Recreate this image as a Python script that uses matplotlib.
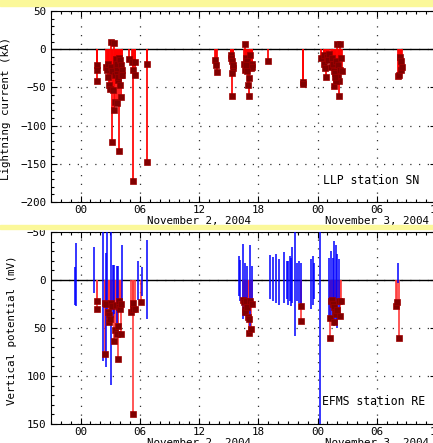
import matplotlib
matplotlib.use("Agg")
import matplotlib.pyplot as plt
from matplotlib.patches import Rectangle
from matplotlib.ticker import MultipleLocator

# hours relative to 2004-11-02 00:00 UT
llp_hours = [
    1.62, 1.62, 1.69,
    2.60, 2.67, 2.80, 2.80, 2.90, 2.97, 3.04, 3.10, 3.20, 3.20, 3.31, 3.37,
    3.37, 3.47, 3.47, 3.54, 3.61, 3.64, 3.71, 3.71, 3.71, 3.78, 3.81, 3.88,
    3.88, 3.95, 3.98, 4.05, 4.05, 4.11, 4.15, 4.18,
    4.89, 5.16, 5.33, 5.33, 5.50, 5.50, 6.68, 6.68,
    13.66, 13.76, 13.83,
    15.25, 15.28, 15.35, 15.41, 15.38, 15.35, 15.45,
    16.70, 16.53, 16.63, 16.80, 16.87, 16.93, 16.97, 17.04, 17.10, 17.14,
    17.20, 17.27, 17.34, 17.41, 16.87, 16.73,
    18.96, 22.50, 22.50,
    24.39, 24.63, 24.69, 24.80, 24.86, 24.96, 25.03, 25.13, 25.37, 25.47,
    25.57, 25.64, 25.71, 25.81, 25.91, 25.98, 26.04, 26.08, 26.14, 26.18,
    26.24, 26.31, 26.38, 26.48, 25.91, 25.78,
    32.15, 32.28, 32.38, 32.42, 32.48, 32.55,
]
llp_current = [
    -21, -27, -42,
    -23, -27, -19, -36, -47, -52, -23, 9, -121, -29, -53, 8,
    -80, -69, -34, -13, -21, -29, -25, -71, -19, -40, -36, -12,
    -133, -47, -14, -34, -62, -21, -27, -34,
    -13, -17, -27, -173, -17, -34, -20, -148,
    -14, -21, -30,
    -8, -12, -16, -25, -31, -61, -21,
    7, -19, -27, -12, -16, -23, -47, -61, -38, -8,
    -21, -25, -19, -23, -29, -21,
    -16, -43, -46,
    -12, -8, -19, -25, -37, -10, -14, -6, -23, -12,
    -19, -28, -48, -31, -16, 7, -21, -37, -42, -61,
    7, -27, -12, -28, -42, -37,
    -35, -34, -10, -16, -27, -23,
]

# EFMS vertical potential: min/max range of each record (blue)
efms_hours = [
    -0.61, -0.51, 1.38, 2.30, 2.55, 2.63, 3.10, 3.25, 3.40, 3.65, 3.80,
    4.15, 5.77, 6.20, 6.72,
    16.02, 16.19, 16.43, 16.63, 16.87, 17.20, 17.34,
    19.23, 19.50, 19.77, 20.14, 20.61, 20.92, 21.05, 21.18, 21.32, 21.45,
    21.69, 21.93, 22.13, 22.33,
    23.34, 23.51, 23.68, 24.29,
    25.20, 25.37, 25.57, 25.71, 25.84, 25.98, 26.14,
    32.12,
]
efms_low = [
    -14, -39, -34, -60, -28, -60, -60, -16, -16, -15, -15,
    -36, -20, -14, -42,
    -25, -21, -37, -18, -15, -36, -15,
    -26, -24, -27, -22, -29, -20, -20, -25, -23, -34,
    -60, -18, -20, -18,
    -22, -25, -18, -60,
    -23, -30, -23, -41, -36, -27, -22,
    -18,
]
efms_high = [
    26, 27, 14, 84, 91, 30, 109, 40, 35, 45, 30,
    30, 21, 17, 41,
    17, 22, 41, 38, 27, 48, 24,
    20, 22, 24, 26, 24, 20, 26, 22, 27, 24,
    58, 22, 24, 27,
    30, 26, 20, 160,
    41, 38, 45, 48, 43, 50, 38,
    3,
]

# EFMS potential change at LLP stroke times (red)
step_hours = [
    1.62, 1.65,
    2.45, 2.50, 2.60, 2.75, 2.85, 2.90, 3.00, 3.10, 3.20, 3.35, 3.45, 3.55,
    3.65, 3.75, 3.80, 3.85, 3.92, 4.00, 4.08, 4.10,
    5.06, 5.33, 5.33, 5.33, 5.50, 6.14,
    16.43, 16.53, 16.63, 16.70, 16.80, 16.87, 16.97, 17.04, 17.10, 17.20,
    17.31, 17.37,
    22.33, 22.33,
    25.23, 25.30, 25.37, 25.47, 25.57, 25.64, 25.71, 25.81, 25.91, 25.98,
    26.14, 26.24, 26.38,
    31.95, 32.05, 32.25,
]
step_potential = [
    22, 30,
    24, 77, 25, 33, 36, 44, 41, 24, 27, 64, 52, 26,
    56, 48, 82, 22, 28, 30, 56, 25,
    33, 24, 30, 140, 30, 23,
    21, 23, 30, 33, 22, 28, 39, 41, 55, 22,
    51, 25,
    27, 43,
    40, 60, 22, 21, 25, 44, 28, 33, 35, 31,
    22, 37, 22,
    27, 23, 60,
]

hour_ticks = [0, 6, 12, 18, 24, 30, 36]
hour_labels = ["00", "06", "12", "18", "00", "06", "12"]
day_hours = [12, 30]
day_labels = ["November 2, 2004", "November 3, 2004"]

FONT = "DejaVu Sans Mono"
plt.rcParams["font.family"] = FONT
plt.rcParams["font.size"] = 7.8

W, H = 433, 443
fig = plt.figure(figsize=(W / 100, H / 100), dpi=100)
fig.patch.set_facecolor("white")

# pale yellow separator strips
fig.patches.append(Rectangle((0, 1 - 6 / H), 1, 6 / H, transform=fig.transFigure,
                             color="#fbf89a", zorder=0))
fig.patches.append(Rectangle((0, 1 - 229 / H), 1, 4.5 / H, transform=fig.transFigure,
                             color="#fbf89a", zorder=0))


def px_axes(left, top, right, bottom):
    return fig.add_axes([left / W, 1 - bottom / H, (right - left) / W, (bottom - top) / H])


def style_axes(ax, ymajor, yminor):
    ax.set_xlim(-3, 36)
    ax.set_xticks(hour_ticks)
    ax.set_xticklabels(hour_labels)
    ax.xaxis.set_minor_locator(MultipleLocator(1))
    ax.yaxis.set_major_locator(MultipleLocator(ymajor))
    ax.yaxis.set_minor_locator(MultipleLocator(yminor))
    ax.tick_params(which="both", direction="in", top=True, right=True, width=0.8)
    ax.tick_params(which="major", length=4.3, pad=3.5)
    ax.tick_params(axis="x", which="major", pad=2.5)
    ax.tick_params(which="minor", length=2.2)
    for s in ax.spines.values():
        s.set_linewidth(0.8)
    ax.set_axisbelow(True)
    ax.grid(True, which="major", linestyle=(0, (1, 6)), color="#333333", linewidth=0.9)
    ax.axhline(0, color="black", linewidth=1.0, zorder=2)
    for h, lab in zip(day_hours, day_labels):
        ax.text(h, -0.098, lab, transform=ax.get_xaxis_transform(),
                ha="center", va="center", clip_on=False)


# top: LLP lightning current
ax1 = px_axes(51, 11, 436, 202)
ax1.set_ylim(-200, 50)
style_axes(ax1, 50, 10)
ax1.vlines(llp_hours, 0, llp_current, color="#ff0000", linewidth=1.25, zorder=3)
ax1.plot(llp_hours, llp_current, "s", color="#800000", markeredgecolor="#a00000",
         markersize=3.7, markeredgewidth=0.5, linestyle="none", zorder=4)
ax1.set_ylabel("Lightning current (kA)")
ax1.yaxis.set_label_coords(-0.104, 0.49)
ax1.text(0.706, 0.115, "LLP station SN", transform=ax1.transAxes,
         ha="left", va="center", fontsize=8.3)

# bottom: EFMS vertical potential
ax2 = px_axes(51, 232, 436, 424)
ax2.set_ylim(150, -50)
style_axes(ax2, 50, 10)
ax2.vlines(step_hours, 0, step_potential, color="#ff3a3a", linewidth=1.2, zorder=3)
ax2.vlines(efms_hours, efms_low, efms_high, color="#0000ff", linewidth=1.1, zorder=3.5)
ax2.plot(step_hours, step_potential, "s", color="#800000", markeredgecolor="#a00000",
         markersize=3.7, markeredgewidth=0.5, linestyle="none", zorder=4)
ax2.set_ylabel("Vertical potential (mV)")
ax2.yaxis.set_label_coords(-0.088, 0.49)
ax2.text(0.704, 0.115, "EFMS station RE", transform=ax2.transAxes,
         ha="left", va="center", fontsize=8.3)

fig.savefig("out.png", dpi=100)
